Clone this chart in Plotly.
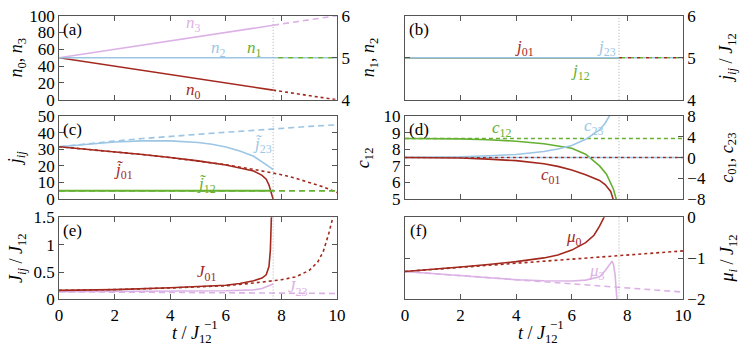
import plotly.graph_objects as go

# ---- data ----
t_break = 7.7

# (a) occupations
t_a = [0, 7.7]
n0_a = [50, 11.5]
n3_a = [50, 88.5]
n2_a = [5, 5]
t_a_late = [7.7, 10]
n0_a_late = [11.5, 0]
n3_a_late = [88.5, 100]
n1_a_late = [5, 5]
n2_a_late = [5, 5]

# (b) currents
t_b = [0, 7.7]
j01_b = [5, 5]
j12_b = [5, 5]
j23_b = [5, 5]
t_b_late = [7.7, 10]
j_b_late = [5, 5]

# (c) rescaled currents
t_j01 = [0, 1, 2, 3, 4, 5, 6, 6.5, 7, 7.3, 7.45, 7.55, 7.62, 7.68, 7.7]
j01_c = [31.5, 30.0, 28.4, 26.8, 25.0, 23.0, 20.5, 18.9, 16.9, 14.3, 12.0, 8.5, 5.0, 1.5, 0]
t_j01_dot = [0, 1, 2, 3, 4, 5, 6, 7, 7.7, 8, 8.5, 9, 9.5, 10]
j01_c_dot = [31.5, 30.0, 28.4, 26.8, 25.0, 23.0, 20.7, 17.9, 15.8, 14.7, 12.6, 10.2, 7.4, 4.0]
t_j23 = [0, 1, 2, 3, 4, 5, 5.5, 6, 6.5, 7, 7.3, 7.5, 7.7]
j23_c = [31.5, 33.1, 34.3, 35.0, 35.0, 34.0, 33.0, 31.3, 29.0, 25.8, 22.6, 20.2, 17.7]
t_j23_dash = [0, 1, 2, 3, 4, 5, 6, 7, 8, 9, 10]
j23_c_dash = [31.5, 33.3, 34.9, 36.4, 37.8, 39.0, 40.2, 41.3, 42.6, 43.7, 44.7]
t_j12 = [0, 7.7]
j12_c = [5, 5]
t_j12_dash = [0, 10]
j12_c_dash = [5, 5]

# (d) coefficients
t_c12 = [0, 1, 2, 3, 4, 5, 5.5, 6, 6.5, 7, 7.25, 7.5, 7.6]
c12 = [8.64, 8.64, 8.62, 8.57, 8.48, 8.33, 8.2, 8.06, 7.7, 7.0, 6.5, 5.6, 5.0]
t_c23 = [0, 1, 2, 3, 4, 5, 5.5, 6, 6.5, 7, 7.2, 7.4]
c23 = [0, 0.05, 0.15, 0.35, 0.6, 1.15, 1.65, 2.3, 3.5, 5.3, 6.6, 8.4]
t_c01 = [0, 1, 2, 3, 4, 5, 5.5, 6, 6.5, 7, 7.2, 7.4, 7.5]
c01 = [0, -0.03, -0.1, -0.3, -0.6, -1.2, -1.7, -2.4, -3.3, -4.4, -5.2, -6.5, -8.2]
t_d_dash = [0, 10]
c12_dash = [8.64, 8.64]
c01_dash = [0, 0]
c23_dash = [0, 0]

# (e) tunnelling rates
t_J01 = [0, 2, 4, 5, 6, 6.5, 7, 7.3, 7.45, 7.55, 7.6, 7.64]
J01 = [0.165, 0.18, 0.215, 0.235, 0.26, 0.29, 0.34, 0.39, 0.45, 0.6, 0.9, 1.55]
t_J01_dot = [0, 2, 4, 6, 7, 7.7, 8, 8.5, 9, 9.3, 9.5, 9.7, 9.85, 9.95]
J01_dot = [0.165, 0.18, 0.21, 0.25, 0.3, 0.335, 0.36, 0.41, 0.53, 0.68, 0.87, 1.2, 1.5, 1.7]
t_J23 = [0, 2, 4, 6, 7, 7.3, 7.5, 7.7]
J23 = [0.14, 0.145, 0.152, 0.16, 0.175, 0.2, 0.24, 0.28]
t_J23_dash = [0, 5, 10]
J23_dash = [0.14, 0.125, 0.11]

# (f) chemical potentials
t_mu0 = [0, 1, 2, 3, 4, 5, 5.5, 6, 6.5, 6.8, 7, 7.2]
mu0 = [-1.32, -1.27, -1.21, -1.15, -1.08, -0.99, -0.92, -0.8, -0.62, -0.44, -0.22, 0.05]
t_mu0_dot = [0, 5, 10]
mu0_dot = [-1.32, -1.07, -0.82]
t_mu3 = [0, 1, 2, 3, 4, 5, 6, 6.5, 7, 7.2, 7.35, 7.45, 7.5, 7.56, 7.63]
mu3 = [-1.32, -1.37, -1.43, -1.48, -1.52, -1.545, -1.55, -1.53, -1.45, -1.3, -1.15, -1.07, -1.15, -1.4, -2.05]
t_mu3_dash = [0, 5, 10]
mu3_dash = [-1.32, -1.57, -1.82]

# ---- style ----
RED = "#a3291e"
BLUE = "#9cc6e4"
GREEN = "#66b032"
PURPLE = "#dcb2e6"
FONT = "Liberation Serif"
W, H = 747, 353
LW = 1.6
DOT = "3px,3px"
DASH = "6px,4px"


def px(p):
    return p / W


def py(p):
    return 1 - p / H


fig = go.Figure()


def line(x, y, color, xa, ya, dash="solid", width=LW):
    fig.add_trace(go.Scatter(x=x, y=y, mode="lines", xaxis=xa, yaxis=ya,
                             line=dict(color=color, width=width, dash=dash),
                             showlegend=False, hoverinfo="skip"))


# (a)
line(t_a_late, n0_a_late, RED, "x", "y", DOT)
line(t_a_late, n3_a_late, PURPLE, "x", "y", DASH)
line(t_a, n0_a, RED, "x", "y")
line(t_a, n3_a, PURPLE, "x", "y")
line(t_a_late, n2_a_late, BLUE, "x", "y2", "5px,5px")
line(t_a_late, n1_a_late, GREEN, "x", "y2", "0px,5px,5px,0px")
line(t_a, n2_a, BLUE, "x", "y2")

# (b)
line(t_b_late, j_b_late, RED, "x2", "y3", "3px,6px")
line(t_b_late, j_b_late, GREEN, "x2", "y3", "0px,3px,3px,3px")
line(t_b_late, j_b_late, BLUE, "x2", "y3", "0px,6px,3px,0px")
line(t_b, j01_b, RED, "x2", "y3")
line(t_b, j12_b, GREEN, "x2", "y3")
line(t_b, j23_b, BLUE, "x2", "y3")

# (c)
line(t_j23_dash, j23_c_dash, BLUE, "x3", "y4", DASH)
line(t_j01_dot, j01_c_dot, RED, "x3", "y4", DOT)
line(t_j12_dash, j12_c_dash, GREEN, "x3", "y4", DASH)
line(t_j23, j23_c, BLUE, "x3", "y4")
line(t_j01, j01_c, RED, "x3", "y4")
line(t_j12, j12_c, GREEN, "x3", "y4", width=2)

# (d)
line(t_d_dash, c12_dash, GREEN, "x4", "y5", "4px,3px")
line(t_c12, c12, GREEN, "x4", "y5")
line(t_d_dash, c01_dash, RED, "x4", "y6", "3px,3px")
line(t_d_dash, c23_dash, BLUE, "x4", "y6", "0px,3px,3px,0px")
line(t_c23, c23, BLUE, "x4", "y6")
line(t_c01, c01, RED, "x4", "y6")

# (e)
line(t_J23_dash, J23_dash, PURPLE, "x5", "y7", DASH)
line(t_J01_dot, J01_dot, RED, "x5", "y7", DOT)
line(t_J23, J23, PURPLE, "x5", "y7")
line(t_J01, J01, RED, "x5", "y7")

# (f)
line(t_mu3_dash, mu3_dash, PURPLE, "x6", "y8", DASH)
line(t_mu0_dot, mu0_dot, RED, "x6", "y8", DOT)
line(t_mu3, mu3, PURPLE, "x6", "y8")
line(t_mu0, mu0, RED, "x6", "y8")

# ---- axes ----
xL = [px(56), px(339)]
xR = [px(408), px(691)]
rows = [[py(96), py(7)], [py(201), py(113)], [py(307), py(220)]]
AX = "#555555"
tickfont = dict(family=FONT, size=17, color="black")
common = dict(showgrid=False, zeroline=False, showline=True, linecolor=AX, linewidth=1,
              ticks="inside", ticklen=5, tickcolor=AX, tickfont=tickfont,
              ticklabeloverflow="allow")

layout = dict(width=W, height=H, margin=dict(l=0, r=0, t=0, b=0),
              paper_bgcolor="white", plot_bgcolor="white", showlegend=False)

x_specs = [(xL, "y"), (xR, "y3"), (xL, "y4"), (xR, "y5"), (xL, "y7"), (xR, "y8")]
for i, (dom, anchor) in enumerate(x_specs):
    key = "xaxis" if i == 0 else f"xaxis{i + 1}"
    layout[key] = dict(common, domain=dom, anchor=anchor, range=[0, 10], dtick=2,
                       mirror="ticks", showticklabels=(i >= 4))

layout["yaxis"] = dict(common, domain=rows[0], anchor="x", range=[0, 100], dtick=20)
layout["yaxis2"] = dict(common, overlaying="y", anchor="x", side="right", range=[4, 6], dtick=1)
layout["yaxis3"] = dict(common, domain=rows[0], anchor="x2", side="right", range=[4, 6], dtick=1,
                        mirror="ticks")
layout["yaxis4"] = dict(common, domain=rows[1], anchor="x3", range=[0, 50], dtick=10, mirror="ticks")
layout["yaxis5"] = dict(common, domain=rows[1], anchor="x4", range=[5, 10], dtick=1)
layout["yaxis6"] = dict(common, overlaying="y5", anchor="x4", side="right", range=[-8, 8], dtick=4)
layout["yaxis7"] = dict(common, domain=rows[2], anchor="x5", range=[0, 1.5], dtick=0.5, mirror="ticks")
layout["yaxis8"] = dict(common, domain=rows[2], anchor="x6", side="right", range=[-2, 0], dtick=1,
                        mirror="ticks")
fig.update_layout(layout)

# vertical marker at the breakdown time
for xa, ya in [("x", "y"), ("x2", "y3"), ("x3", "y4"), ("x4", "y5"), ("x5", "y7"), ("x6", "y8")]:
    fig.add_shape(type="line", xref=xa, yref=f"{ya} domain", x0=t_break, x1=t_break, y0=0, y1=1,
                  line=dict(color="#999999", width=0.8, dash="1px,2px"), layer="above")

# ---- text ----
def lab(x, y, text, color, xa, ya, size=17):
    fig.add_annotation(x=x, y=y, xref=xa, yref=ya, text=text, showarrow=False,
                       xanchor="center", yanchor="middle",
                       font=dict(family=FONT, size=size, color=color))


lab(4.85, 90, "<i>n</i><sub>3</sub>", PURPLE, "x", "y")
lab(4.85, 10, "<i>n</i><sub>0</sub>", RED, "x", "y")
lab(5.74, 5.2, "<i>n</i><sub>2</sub>", BLUE, "x", "y2")
lab(7.03, 5.2, "<i>n</i><sub>1</sub>", GREEN, "x", "y2")

lab(4.31, 5.24, "<i>j</i><sub>01</sub>", RED, "x2", "y3")
lab(7.25, 5.24, "<i>j</i><sub>23</sub>", BLUE, "x2", "y3")
lab(6.31, 4.66, "<i>j</i><sub>12</sub>", GREEN, "x2", "y3")

tj = "<i>j\u0303</i>"
lab(7.33, 32.4, tj + "<sub>23</sub>", BLUE, "x3", "y4")
lab(2.32, 17.0, tj + "<sub>01</sub>", RED, "x3", "y4")
lab(5.32, 8.8, tj + "<sub>12</sub>", GREEN, "x3", "y4")

lab(3.49, 9.2, "<i>c</i><sub>12</sub>", GREEN, "x4", "y5")
lab(6.78, 9.35, "<i>c</i><sub>23</sub>", BLUE, "x4", "y5")
lab(5.25, 6.38, "<i>c</i><sub>01</sub>", RED, "x4", "y5")

lab(5.32, 0.49, "<i>J</i><sub>01</sub>", RED, "x5", "y7")
lab(8.56, 0.21, "<i>J</i><sub>23</sub>", PURPLE, "x5", "y7")

lab(6.08, -0.5, "<i>μ</i><sub>0</sub>", RED, "x6", "y8")
lab(6.9, -1.33, "<i>μ</i><sub>3</sub>", PURPLE, "x6", "y8")

for name, xa, ya in [("(a)", "x", "y"), ("(b)", "x2", "y3"), ("(c)", "x3", "y4"),
                     ("(d)", "x4", "y5"), ("(e)", "x5", "y7"), ("(f)", "x6", "y8")]:
    fig.add_annotation(x=0.05, y=0.835, xref=f"{xa} domain", yref=f"{ya} domain", text=name,
                       showarrow=False, xanchor="center", yanchor="middle",
                       font=dict(family=FONT, size=17, color="black"))


def ytitle(xpx, row, text):
    fig.add_annotation(x=px(xpx), y=sum(rows[row]) / 2, xref="paper", yref="paper", text=text,
                       textangle=-90, showarrow=False, xanchor="center", yanchor="middle",
                       font=dict(family=FONT, size=18, color="black"))


ytitle(14, 0, "<i>n</i><sub>0</sub>, <i>n</i><sub>3</sub>")
ytitle(372, 0, "<i>n</i><sub>1</sub>, <i>n</i><sub>2</sub>")
ytitle(737, 0, "<i>j<sub>ij</sub></i> / <i>J</i><sub>12</sub>")
ytitle(13, 1, "<i>j<sub>ij</sub></i>")
ytitle(367, 1, "<i>c</i><sub>12</sub>")
ytitle(737, 1, "<i>c</i><sub>01</sub>, <i>c</i><sub>23</sub>")
ytitle(14, 2, "<i>J<sub>ij</sub></i> / <i>J</i><sub>12</sub>")
ytitle(737, 2, "<i>μ<sub>i</sub></i> / <i>J</i><sub>12</sub>")

# x titles: t / J_12^-1 with the -1 stacked over the subscript
for xc in [(56 + 339) / 2, (408 + 691) / 2]:
    fig.add_annotation(x=px(xc - 6), y=py(344), xref="paper", yref="paper",
                       text="<i>t</i> / <i>J</i><sub>12</sub>", showarrow=False,
                       xanchor="center", yanchor="middle",
                       font=dict(family=FONT, size=18, color="black"))
    fig.add_annotation(x=px(xc + 13), y=py(333), xref="paper", yref="paper",
                       text="−1", showarrow=False, xanchor="center", yanchor="middle",
                       font=dict(family=FONT, size=13, color="black"))

fig.write_html("out.html", config={"displayModeBar": False},
               post_script="document.body.style.margin = '0px';")
